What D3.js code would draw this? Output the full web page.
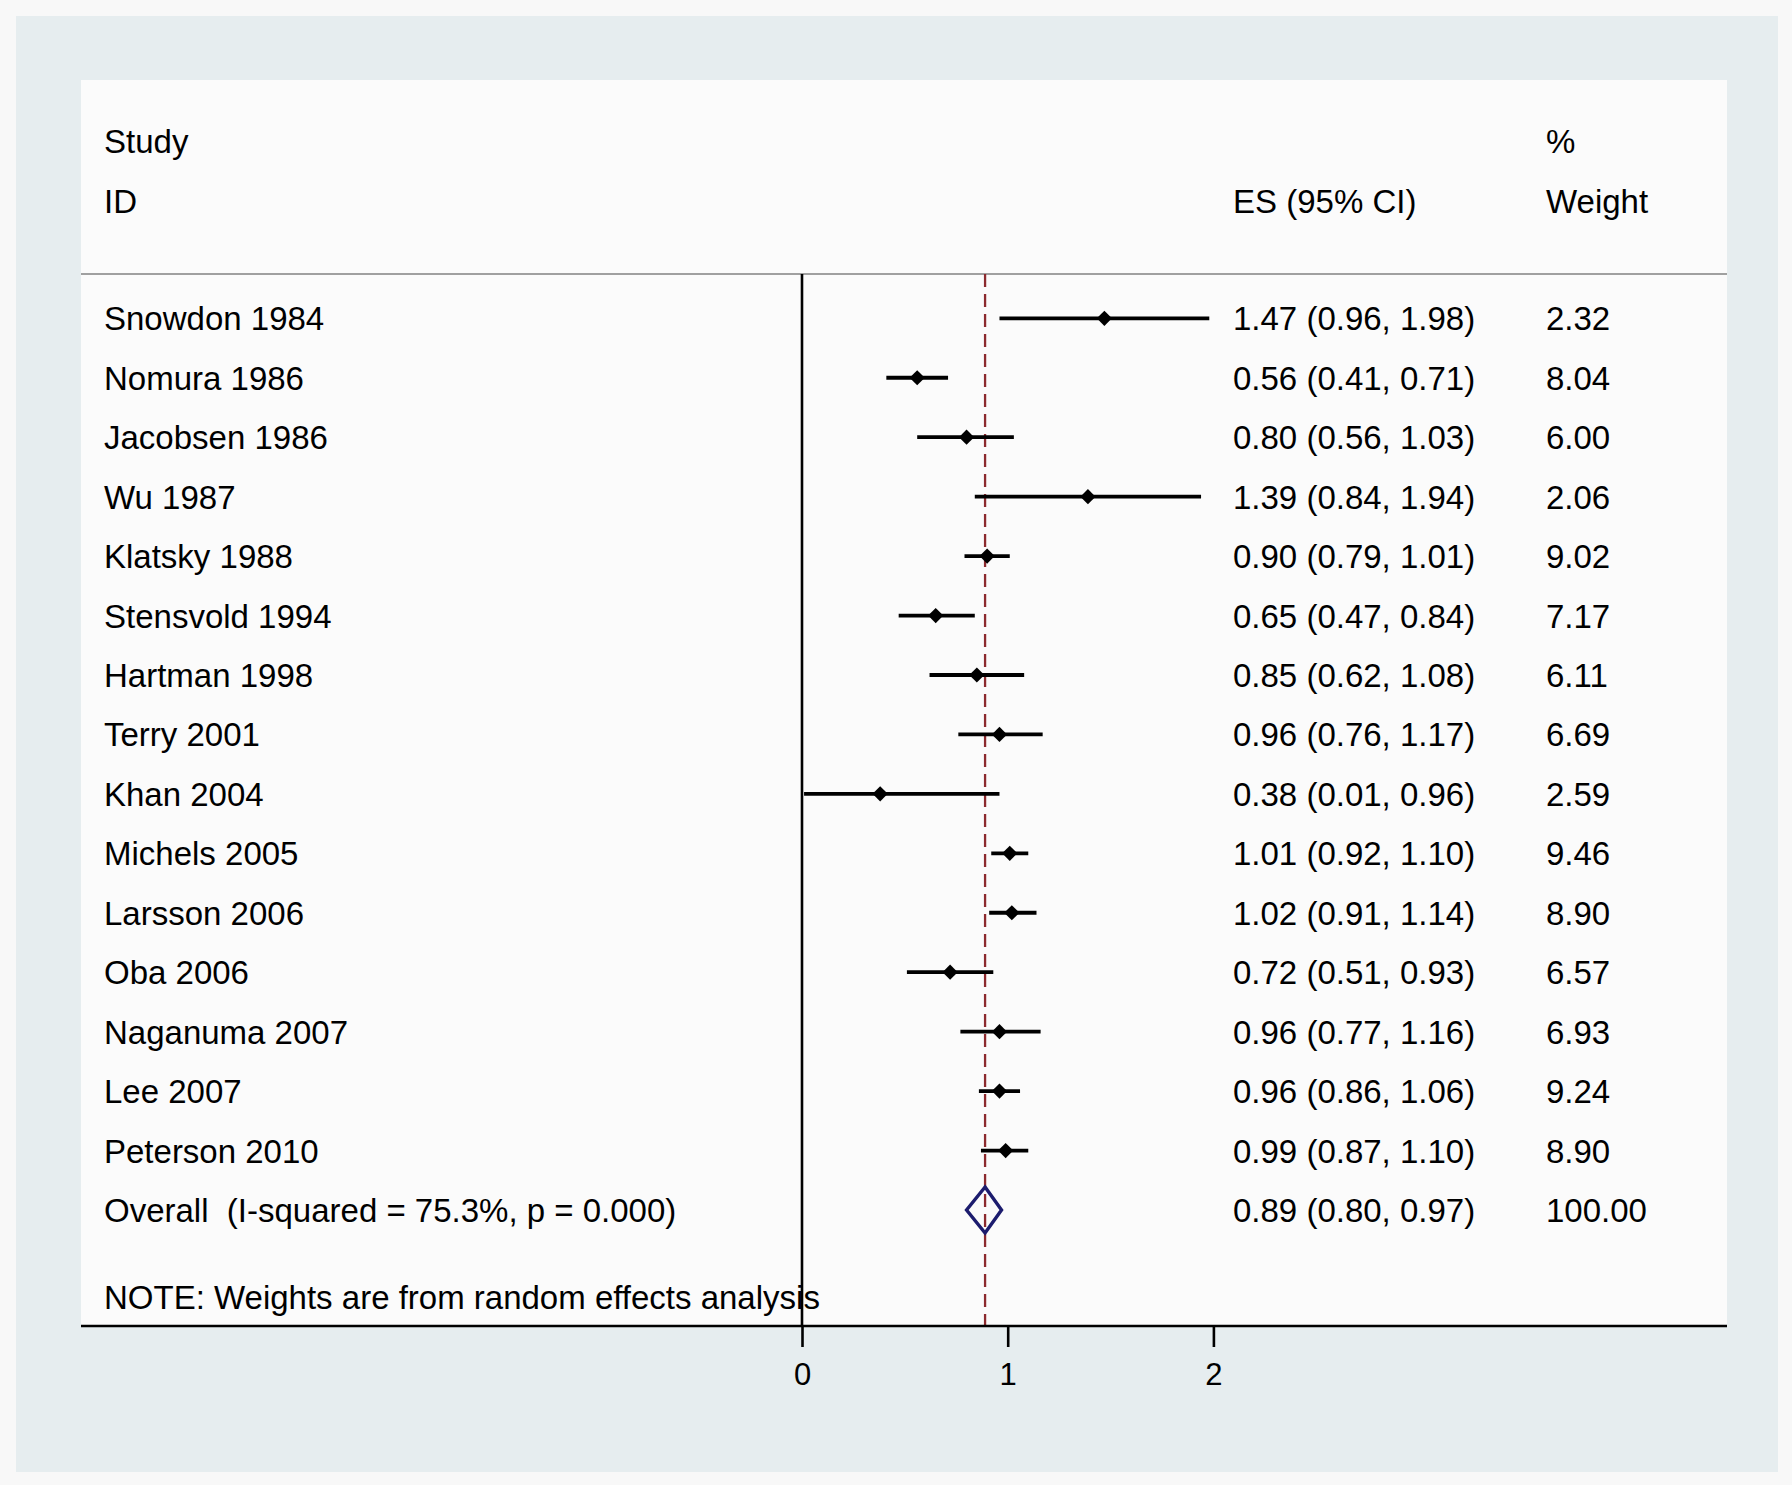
<!DOCTYPE html>
<html>
<head>
<meta charset="utf-8">
<script src="https://cdn.jsdelivr.net/npm/d3@7"></script>
<style>
  body { margin: 0; background: #f8f8f8; }
  text { font-family: "Liberation Sans", Arial, sans-serif; fill: #000; }
</style>
</head>
<body>
<div id="chart"></div>
<script>
const studies = ["Snowdon 1984", "Nomura 1986", "Jacobsen 1986", "Wu 1987", "Klatsky 1988",
  "Stensvold 1994", "Hartman 1998", "Terry 2001", "Khan 2004", "Michels 2005",
  "Larsson 2006", "Oba 2006", "Naganuma 2007", "Lee 2007", "Peterson 2010"]
const es = [1.47, 0.56, 0.80, 1.39, 0.90, 0.65, 0.85, 0.96, 0.38, 1.01, 1.02, 0.72, 0.96, 0.96, 0.99]
const lo = [0.96, 0.41, 0.56, 0.84, 0.79, 0.47, 0.62, 0.76, 0.01, 0.92, 0.91, 0.51, 0.77, 0.86, 0.87]
const hi = [1.98, 0.71, 1.03, 1.94, 1.01, 0.84, 1.08, 1.17, 0.96, 1.10, 1.14, 0.93, 1.16, 1.06, 1.10]
const weights = ["2.32", "8.04", "6.00", "2.06", "9.02", "7.17", "6.11", "6.69", "2.59", "9.46",
  "8.90", "6.57", "6.93", "9.24", "8.90"]
const overall = { label: "Overall  (I-squared = 75.3%, p = 0.000)", es: 0.89, lo: 0.80, hi: 0.97, weight: "100.00" }
const xTicks = [0, 1, 2]
const note = "NOTE: Weights are from random effects analysis"

const W = 1792, H = 1485
const fmt = d3.format(".2f")

const svg = d3.select('#chart')
  .append('svg')
  .attr('width', W)
  .attr('height', H)

// graph region
svg.append('rect')
  .attr('x', 16).attr('y', 16)
  .attr('width', 1762).attr('height', 1456)
  .style('fill', '#e6edef')

// plot region
const plot = { left: 81, right: 1727, top: 80, bottom: 1326 }
svg.append('rect')
  .attr('x', plot.left).attr('y', plot.top)
  .attr('width', plot.right - plot.left).attr('height', plot.bottom - plot.top)
  .style('fill', '#fbfbfb')

const x = d3.scaleLinear().domain([0, 2]).range([802, 1213.4])
const y = d3.scaleLinear().domain([0, studies.length]).range([318.3, 1210])
const headerY = 274

const colStudy = 104, colES = 1233, colW = 1546

// header separator
svg.append('line')
  .attr('x1', plot.left).attr('x2', plot.right)
  .attr('y1', headerY).attr('y2', headerY)
  .style('stroke', '#a0a0a0').style('stroke-width', 2.2)

// header texts
const head = svg.append('g').style('font-size', '33px')
head.append('text').attr('x', colStudy).attr('y', 153).text('Study')
head.append('text').attr('x', colStudy).attr('y', 213).text('ID')
head.append('text').attr('x', colW).attr('y', 153).text('%')
head.append('text').attr('x', colES).attr('y', 213).text('ES (95% CI)')
head.append('text').attr('x', colW).attr('y', 213).text('Weight')

// line of no effect
svg.append('line')
  .attr('x1', x(0)).attr('x2', x(0))
  .attr('y1', headerY).attr('y2', plot.bottom)
  .style('stroke', '#000').style('stroke-width', 2.6)

// overall effect line
svg.append('line')
  .attr('x1', x(overall.es)).attr('x2', x(overall.es))
  .attr('y1', headerY).attr('y2', plot.bottom)
  .style('stroke', '#8c2a2e').style('stroke-width', 2.3)
  .style('stroke-dasharray', '13,7')

const rows = studies.map(function(s, i) {
  return { study: s, es: es[i], lo: lo[i], hi: hi[i], w: weights[i], i: i }
})

// confidence intervals
svg.selectAll('.ci')
  .data(rows)
  .enter()
  .append('line')
  .attr('class', 'ci')
  .attr('x1', function(d) { return x(d.lo) })
  .attr('x2', function(d) { return x(d.hi) })
  .attr('y1', function(d) { return y(d.i) })
  .attr('y2', function(d) { return y(d.i) })
  .style('stroke', '#000').style('stroke-width', 3.8)

// point estimates
const m = 7.6
svg.selectAll('.pt')
  .data(rows)
  .enter()
  .append('path')
  .attr('class', 'pt')
  .attr('d', function(d) {
    const cx = x(d.es), cy = y(d.i)
    return `M${cx},${cy - m}L${cx + m},${cy}L${cx},${cy + m}L${cx - m},${cy}Z`
  })
  .style('fill', '#000')

// overall diamond
const oy = y(studies.length)
svg.append('path')
  .attr('d', `M${x(overall.es)},${oy - 23}L${x(overall.hi)},${oy}L${x(overall.es)},${oy + 23}L${x(overall.lo)},${oy}Z`)
  .style('fill', 'none')
  .style('stroke', '#1c1c6e')
  .style('stroke-width', 3.4)

// row texts
const txt = svg.append('g').style('font-size', '33px')
const allRows = rows.concat([{ study: overall.label, es: overall.es, lo: overall.lo, hi: overall.hi, w: overall.weight, i: studies.length }])

txt.selectAll('.lab')
  .data(allRows)
  .enter()
  .append('text')
  .attr('x', colStudy)
  .attr('y', function(d) { return y(d.i) + 12 })
  .style('white-space', 'pre')
  .attr('xml:space', 'preserve')
  .text(function(d) { return d.study })

txt.selectAll('.esv')
  .data(allRows)
  .enter()
  .append('text')
  .attr('x', colES)
  .attr('y', function(d) { return y(d.i) + 12 })
  .text(function(d) { return `${fmt(d.es)} (${fmt(d.lo)}, ${fmt(d.hi)})` })

txt.selectAll('.wv')
  .data(allRows)
  .enter()
  .append('text')
  .attr('x', colW)
  .attr('y', function(d) { return y(d.i) + 12 })
  .text(function(d) { return d.w })

txt.append('text')
  .attr('x', colStudy)
  .attr('y', 1309)
  .text(note)

// x axis
const axis = svg.append('g')
  .attr('transform', `translate(0,${plot.bottom})`)
  .call(d3.axisBottom(x).tickValues(xTicks).tickSize(21).tickPadding(16).tickFormat(d3.format('d')))
axis.select('.domain').remove()
axis.selectAll('.tick line').style('stroke', '#000').style('stroke-width', 2.6)
axis.selectAll('.tick text')
  .style('font-size', '31px')
  .style('font-family', '"Liberation Sans", Arial, sans-serif')
  .style('fill', '#000')

svg.append('line')
  .attr('x1', plot.left).attr('x2', plot.right)
  .attr('y1', plot.bottom).attr('y2', plot.bottom)
  .style('stroke', '#000').style('stroke-width', 2.6)
</script>
</body>
</html>
